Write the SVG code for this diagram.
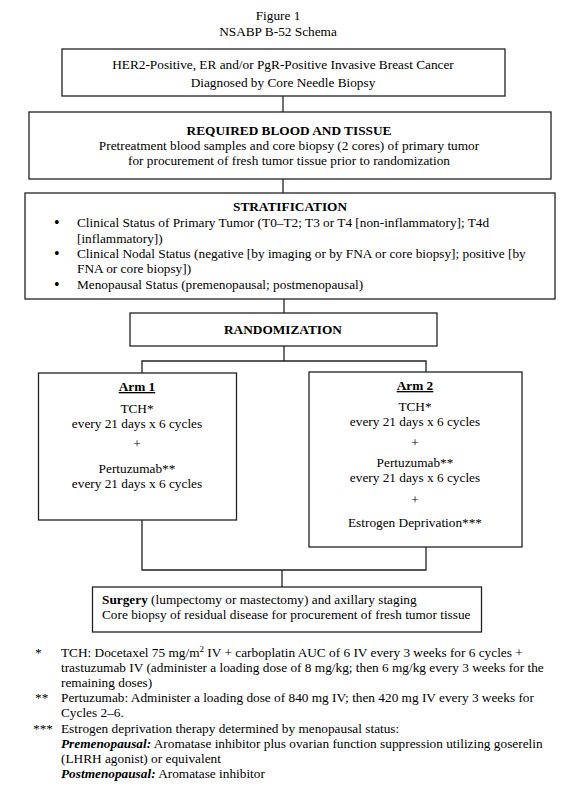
<svg xmlns="http://www.w3.org/2000/svg" width="578" height="790" viewBox="0 0 578 790">
<style>
text{font-family:"Liberation Serif","Times New Roman",serif;font-size:13.3px;fill:#000}
.c{text-anchor:middle}
.b{font-weight:bold}
.u{text-decoration:underline}
.box{fill:#fff;stroke:#222;stroke-width:1.3}
.ln{fill:none;stroke:#222;stroke-width:1.3}
.bi{font-weight:bold;font-style:italic}
.bul{font-size:16px}
</style>
<rect width="578" height="790" fill="#fff"/>
<g id="title">
<text class="c" x="278" y="20">Figure 1</text>
<text class="c" x="278" y="36">NSABP B-52 Schema</text>
</g>
<g id="connectors">
<line class="ln" x1="283" y1="96" x2="283" y2="112"/>
<line class="ln" x1="283" y1="179" x2="283" y2="193"/>
<line class="ln" x1="284" y1="299" x2="284" y2="313"/>
<polyline class="ln" points="284,346 284,361"/>
<polyline class="ln" points="142,373 142,361 426,361 426,372"/>
<polyline class="ln" points="142,520 142,570 426,570 426,547"/>
<line class="ln" x1="282" y1="570" x2="282" y2="587"/>
</g>
<g id="diagnosis">
<rect class="box" x="62" y="49" width="443" height="47"/>
<text class="c" x="283" y="69">HER2-Positive, ER and/or PgR-Positive Invasive Breast Cancer</text>
<text class="c" x="283" y="87">Diagnosed by Core Needle Biopsy</text>
</g>
<g id="blood-tissue">
<rect class="box" x="29" y="112" width="522" height="67"/>
<text class="c b" x="289" y="135">REQUIRED BLOOD AND TISSUE</text>
<text class="c" x="289" y="150">Pretreatment blood samples and core biopsy (2 cores) of primary tumor</text>
<text class="c" x="289" y="165">for procurement of fresh tumor tissue prior to randomization</text>
</g>
<g id="stratification">
<rect class="box" x="25" y="193" width="530" height="106"/>
<text class="c b" x="290" y="211">STRATIFICATION</text>
<text class="bul" x="54" y="228">•</text>
<text x="77" y="227">Clinical Status of Primary Tumor (T0–T2; T3 or T4 [non-inflammatory]; T4d</text>
<text x="77" y="243">[inflammatory])</text>
<text class="bul" x="54" y="259">•</text>
<text x="77" y="258">Clinical Nodal Status (negative [by imaging or by FNA or core biopsy]; positive [by</text>
<text x="77" y="273">FNA or core biopsy])</text>
<text class="bul" x="54" y="290">•</text>
<text x="77" y="289">Menopausal Status (premenopausal; postmenopausal)</text>
</g>
<g id="randomization">
<rect class="box" x="130" y="313" width="307" height="33"/>
<text class="c b" x="283" y="334">RANDOMIZATION</text>
</g>
<g id="arm1">
<rect class="box" x="38.5" y="373" width="198" height="147"/>
<text class="c b u" x="137" y="391">Arm 1</text>
<text class="c" x="137" y="413">TCH*</text>
<text class="c" x="137" y="428">every 21 days x 6 cycles</text>
<text class="c" x="137" y="448">+</text>
<text class="c" x="137" y="473">Pertuzumab**</text>
<text class="c" x="137" y="488">every 21 days x 6 cycles</text>
</g>
<g id="arm2">
<rect class="box" x="309" y="372" width="213" height="175"/>
<text class="c b u" x="415" y="390">Arm 2</text>
<text class="c" x="415" y="411">TCH*</text>
<text class="c" x="415" y="426">every 21 days x 6 cycles</text>
<text class="c" x="415" y="447">+</text>
<text class="c" x="415" y="467">Pertuzumab**</text>
<text class="c" x="415" y="482">every 21 days x 6 cycles</text>
<text class="c" x="415" y="504">+</text>
<text class="c" x="415" y="527">Estrogen Deprivation***</text>
</g>
<g id="surgery">
<rect class="box" x="92.5" y="587" width="389" height="45"/>
<text x="102" y="604"><tspan class="b">Surgery</tspan> (lumpectomy or mastectomy) and axillary staging</text>
<text x="102" y="619">Core biopsy of residual disease for procurement of fresh tumor tissue</text>
</g>
<g id="footnotes">
<text x="35" y="657">*</text>
<text x="61" y="657">TCH: Docetaxel 75 mg/m<tspan font-size="9" dy="-5">2</tspan><tspan dy="5"> IV + carboplatin AUC of 6 IV every 3 weeks for 6 cycles +</tspan></text>
<text x="61" y="672">trastuzumab IV (administer a loading dose of 8 mg/kg; then 6 mg/kg every 3 weeks for the</text>
<text x="61" y="687">remaining doses)</text>
<text x="35" y="702">**</text>
<text x="61" y="702">Pertuzumab: Administer a loading dose of 840 mg IV; then 420 mg IV every 3 weeks for</text>
<text x="61" y="717">Cycles 2–6.</text>
<text x="33" y="733">***</text>
<text x="61" y="733">Estrogen deprivation therapy determined by menopausal status:</text>
<text x="61" y="748"><tspan class="bi">Premenopausal:</tspan> Aromatase inhibitor plus ovarian function suppression utilizing goserelin</text>
<text x="61" y="763">(LHRH agonist) or equivalent</text>
<text x="61" y="778"><tspan class="bi">Postmenopausal:</tspan> Aromatase inhibitor</text>
</g>
</svg>
